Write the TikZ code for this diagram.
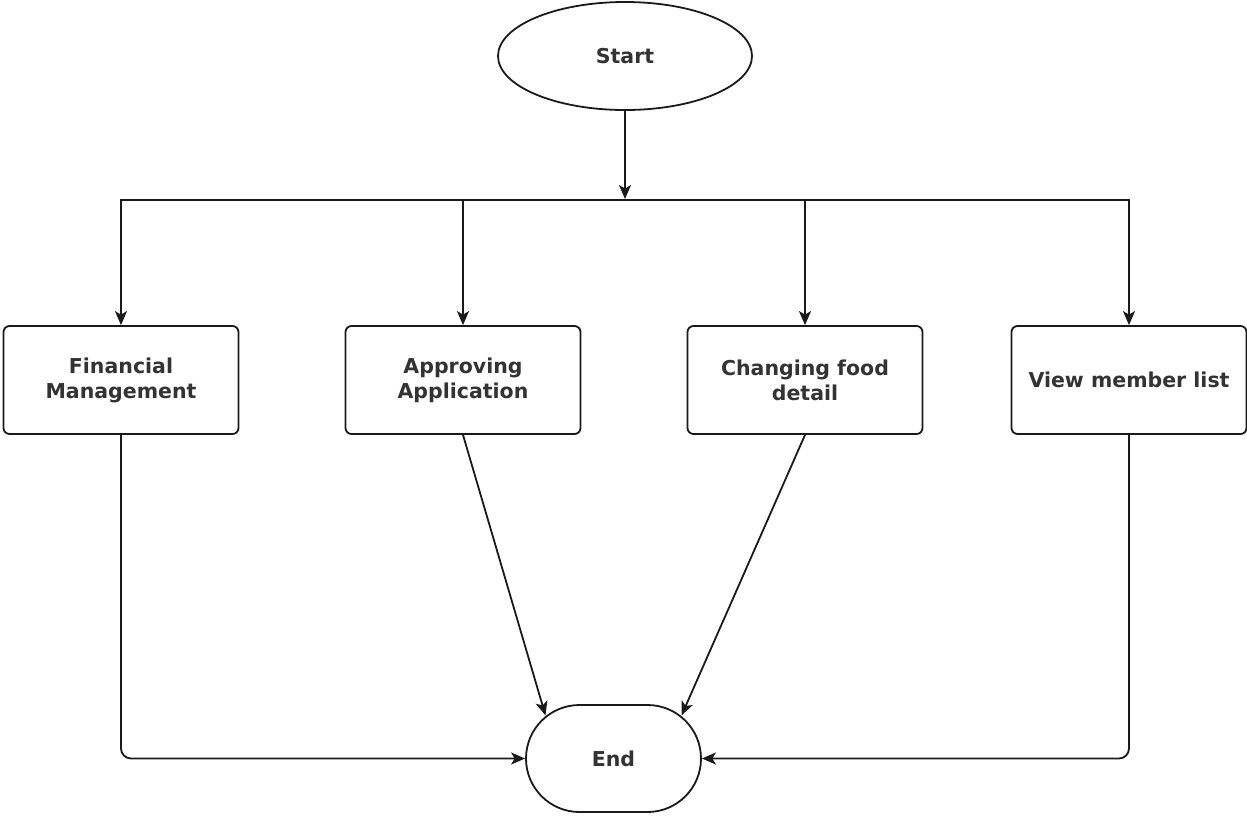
\documentclass[tikz,border=0pt]{standalone}
\usepackage{fontspec}
\setmainfont{DejaVu Sans}
\usetikzlibrary{shapes.geometric,shapes.misc,arrows.meta,calc}
\definecolor{ink}{HTML}{1a1a1a}
\definecolor{txt}{HTML}{333333}
\begin{document}
\begin{tikzpicture}[x=1pt,y=-1pt,
  line width=1.8pt,
  every node/.style={font=\fontsize{20.5}{25}\selectfont\bfseries, text=txt, align=center},
  terminal/.style={ellipse, draw=ink, minimum width=254pt, minimum height=108pt, inner sep=0pt},
  stadium/.style={rounded rectangle, draw=ink, minimum width=175pt, minimum height=107pt, inner sep=0pt},
  taskbox/.style={rectangle, rounded corners=6pt, draw=ink, minimum width=235pt, minimum height=108pt, inner sep=0pt},
  flow/.style={draw=ink, -{Stealth[length=14pt,width=12pt,inset=3.5pt]}},
  wire/.style={draw=ink}
]
\useasboundingbox (0,0) rectangle (1247,817);

% terminals
\node[terminal] (start) at (625,56) {Start};
\node[stadium] (end) at (613.5,758.5) {End};

% task boxes
\node[taskbox] (fin) at (121,380) {Financial\\Management};
\node[taskbox] (app) at (463,380) {Approving\\Application};
\node[taskbox] (food) at (805,380) {Changing food\\detail};
\node[taskbox] (view) at (1129,380) {View member list};

% distribution bar
\coordinate (split) at (625,199);
\coordinate (bar) at (625,200);
\coordinate (dropB) at (463,200);
\coordinate (dropC) at (805,200);

\draw[flow] (start.south) -- (split);
\draw[flow] (bar) -| (fin.north);
\draw[flow] (bar) -| (view.north);
\draw[flow] (dropB) -- (app.north);
\draw[flow] (dropC) -- (food.north);

% converging paths
\draw[flow, rounded corners=10pt] (fin.south) |- (end.west);
\draw[flow, rounded corners=10pt] (view.south) |- (end.east);
\draw[flow] (app.south) -- ($(end.center)+(-68,-43)$);
\draw[flow] (food.south) -- ($(end.center)+(68,-43)$);
\end{tikzpicture}
\end{document}
